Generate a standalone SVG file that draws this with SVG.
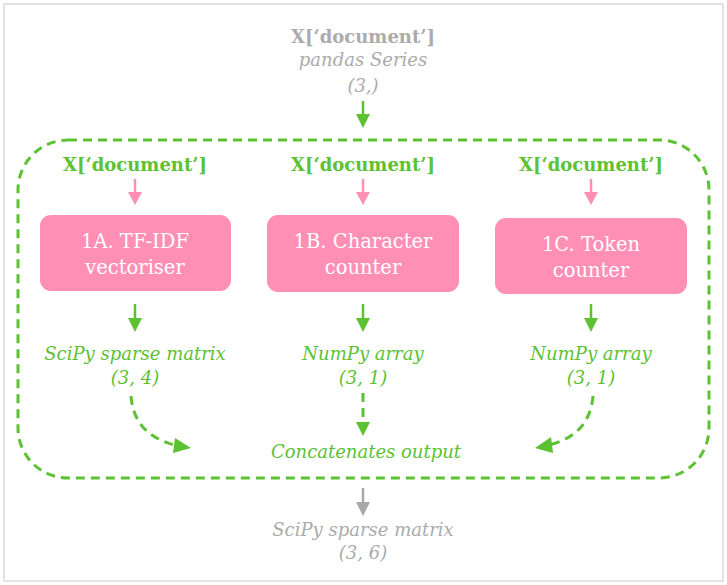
<svg xmlns="http://www.w3.org/2000/svg" width="727" height="585" viewBox="0 0 727 585">
<style>
.t{font-family:"DejaVu Serif","Liberation Serif",serif;text-anchor:middle}
.b{font-weight:bold;font-size:18px}
.i{font-style:italic;font-size:18px}
.g{fill:#5cc232}
.gr{fill:#ababab}
.w{fill:#ffffff;font-size:19.5px}
.box{fill:#ff8fb5}
.ln{fill:none;stroke-width:2.5}
.dash{fill:none;stroke:#5cc232;stroke-width:3;stroke-dasharray:9 6}
</style>
<rect x="4" y="4" width="719" height="577" fill="#ffffff" stroke="#e3e3e3" stroke-width="2"/>
<g id="container">
<rect x="18" y="140" width="691" height="338" rx="50" class="dash"/>
</g>
<g id="input">
<text x="363" y="43" class="t b gr">X[‘document’]</text>
<text x="363" y="66" class="t i gr">pandas Series</text>
<text x="363" y="92" class="t i gr">(3,)</text>
</g>
<g id="node1A">
<text x="135" y="171" class="t b g">X[‘document’]</text>
<rect x="40" y="215" width="191" height="76" rx="11" class="box"/>
<text x="135" y="248" class="t w">1A. TF-IDF</text>
<text x="135" y="274" class="t w">vectoriser</text>
<text x="135" y="360" class="t i g">SciPy sparse matrix</text>
<text x="135" y="384" class="t i g">(3, 4)</text>
</g>
<g id="node1B">
<text x="363" y="171" class="t b g">X[‘document’]</text>
<rect x="267" y="215" width="192" height="77" rx="11" class="box"/>
<text x="363" y="248" class="t w">1B. Character</text>
<text x="363" y="274" class="t w">counter</text>
<text x="363" y="360" class="t i g">NumPy array</text>
<text x="363" y="384" class="t i g">(3, 1)</text>
</g>
<g id="node1C">
<text x="591" y="171" class="t b g">X[‘document’]</text>
<rect x="495" y="218" width="192" height="76" rx="11" class="box"/>
<text x="591" y="251" class="t w">1C. Token</text>
<text x="591" y="277" class="t w">counter</text>
<text x="591" y="360" class="t i g">NumPy array</text>
<text x="591" y="384" class="t i g">(3, 1)</text>
</g>
<g id="concat">
<text x="366" y="458" class="t i g">Concatenates output</text>
</g>
<g id="output">
<text x="363" y="536" class="t i gr">SciPy sparse matrix</text>
<text x="363" y="559" class="t i gr">(3, 6)</text>
</g>
<g id="connectors">
<path d="M363,101V115" stroke="#5cc232" class="ln"/><path d="M356,114L370,114L363,128z" fill="#5cc232"/>
<path d="M135,179V193" stroke="#ff8fb5" class="ln"/><path d="M128,192L142,192L135,205z" fill="#ff8fb5"/>
<path d="M363,179V193" stroke="#ff8fb5" class="ln"/><path d="M356,192L370,192L363,205z" fill="#ff8fb5"/>
<path d="M591,179V193" stroke="#ff8fb5" class="ln"/><path d="M584,192L598,192L591,205z" fill="#ff8fb5"/>
<path d="M135,304V320" stroke="#5cc232" class="ln"/><path d="M128,318L142,318L135,332z" fill="#5cc232"/>
<path d="M363,304V320" stroke="#5cc232" class="ln"/><path d="M356,318L370,318L363,332z" fill="#5cc232"/>
<path d="M591,304V320" stroke="#5cc232" class="ln"/><path d="M584,318L598,318L591,332z" fill="#5cc232"/>
<path d="M131,396C133,420 145,438 178,446" class="dash" stroke-width="2.5" stroke-dasharray="8 6"/>
<path d="M175,438L191,448L173,453z" fill="#5cc232"/>
<path d="M363,393V424" class="dash" stroke-width="2.5" stroke-dasharray="8 6"/>
<path d="M356,422L370,422L363,436z" fill="#5cc232"/>
<path d="M593,396C591,420 578,438 549,445" class="dash" stroke-width="2.5" stroke-dasharray="8 6"/>
<path d="M551,437L535,448L553,453z" fill="#5cc232"/>
<path d="M363,488V503" stroke="#a8a8a8" class="ln"/><path d="M356,502L370,502L363,516z" fill="#a8a8a8"/>
</g>
</svg>
